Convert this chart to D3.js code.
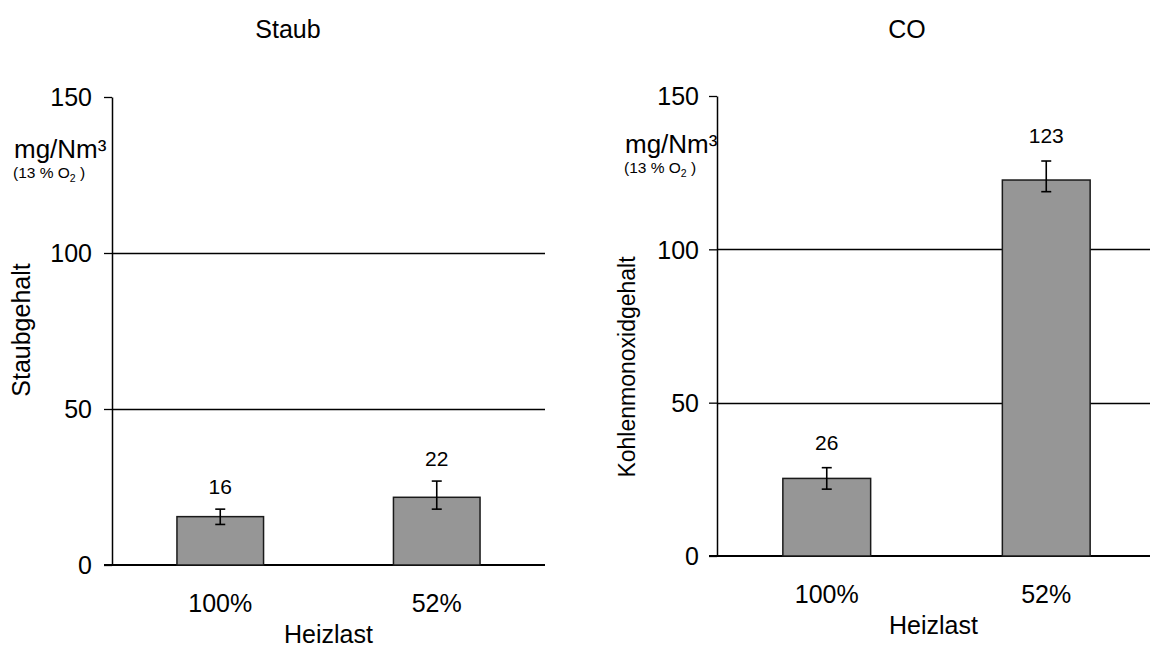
<!DOCTYPE html>
<html><head><meta charset="utf-8">
<script src="https://cdn.jsdelivr.net/npm/d3@7"></script>
<style>body{margin:0;background:#fff}svg{display:block;font-family:"Liberation Sans",Arial,sans-serif}</style>
</head><body><svg id="c" width="1150" height="647"></svg>
<script>
const categories = ["100%", "52%"];
const staubValues = [15.5, 21.7];
const staubErrLow = [13.0, 17.9];
const staubErrHigh = [17.9, 26.9];
const staubLabels = ["16", "22"];
const coValues = [25.3, 122.6];
const coErrLow = [21.8, 118.8];
const coErrHigh = [28.8, 128.8];
const coLabels = ["26", "123"];
const yTicks = [0, 50, 100, 150];
const gridTicks = [50, 100];

const svg = d3.select("#c");
const FONT = "Liberation Sans, Arial, sans-serif";

function panel(cfg) {
  const y = d3.scaleLinear().domain([0, 150]).range([cfg.y0, cfg.y150]);
  const x = d3.scaleBand().domain(categories).range([cfg.x0, cfg.x1]).paddingInner(0.6).paddingOuter(0.3);
  const g = svg.append("g");
  g.selectAll(".grid").data(gridTicks).enter().append("line")
    .attr("x1", cfg.x0).attr("x2", cfg.x1)
    .attr("y1", d => Math.round(y(d)) + 0.5).attr("y2", d => Math.round(y(d)) + 0.5)
    .attr("stroke", "#000").attr("stroke-width", 1.3);
  const ya = g.append("g").attr("transform", `translate(${cfg.x0},0)`)
    .call(d3.axisLeft(y).tickValues(yTicks).tickSize(8).tickPadding(cfg.tickPad).tickSizeOuter(0));
  ya.select(".domain").attr("stroke", "#000").attr("stroke-width", 1.5);
  ya.selectAll(".tick line").attr("stroke-width", 1.3);
  ya.selectAll("text").attr("font-size", 25).attr("fill", "#000").attr("font-family", FONT).attr("dy", "0.35em");
  g.append("line").attr("x1", cfg.x0 - 8).attr("x2", cfg.x1).attr("y1", y(0)).attr("y2", y(0)).attr("stroke", "#000").attr("stroke-width", 2);
  g.selectAll(".bar").data(cfg.values).enter().append("rect")
    .attr("x", (d, i) => x(categories[i])).attr("width", x.bandwidth())
    .attr("y", d => y(d)).attr("height", d => y(0) - y(d))
    .attr("fill", "#969696").attr("stroke", "#1a1a1a").attr("stroke-width", 1.5);
  categories.forEach((c, i) => {
    const cx = x(c) + x.bandwidth() / 2;
    g.append("line").attr("x1", cx).attr("x2", cx).attr("y1", y(cfg.lo[i])).attr("y2", y(cfg.hi[i])).attr("stroke", "#000").attr("stroke-width", 1.6);
    [cfg.lo[i], cfg.hi[i]].forEach(v => g.append("line").attr("x1", cx - 5).attr("x2", cx + 5).attr("y1", y(v)).attr("y2", y(v)).attr("stroke", "#000").attr("stroke-width", 1.6));
    g.append("text").attr("x", cx).attr("y", y(cfg.hi[i]) - cfg.labGap).attr("text-anchor", "middle").attr("font-size", 21).text(cfg.labels[i]);
    g.append("text").attr("x", cx).attr("y", cfg.catY).attr("text-anchor", "middle").attr("font-size", 25).text(c);
  });
  g.append("text").attr("x", (cfg.x0 + cfg.x1p) / 2).attr("y", cfg.catY + 31).attr("text-anchor", "middle").attr("font-size", 25).text("Heizlast");
  g.append("text").attr("x", cfg.titleX).attr("y", 38).attr("text-anchor", "middle").attr("font-size", 25).text(cfg.title);
  g.append("text").attr("transform", `translate(${cfg.ytX},${cfg.ytY}) rotate(-90)`).attr("text-anchor", "middle").attr("font-size", cfg.ytSize).text(cfg.ytitle);
  g.append("text").attr("x", cfg.unitX).attr("y", cfg.unitY).attr("font-size", 26).text("mg/Nm³");
  const t = g.append("text").attr("x", cfg.unitX - 1).attr("y", cfg.unitY + 20).attr("font-size", 15.5).attr("xml:space", "preserve");
  t.append("tspan").text("(13 % O");
  t.append("tspan").attr("font-size", 10.5).attr("dy", 4).text("2");
  t.append("tspan").attr("dy", -4).text(" )");
}

panel({x0: 112, x1: 545, x1p: 545, y0: 565, y150: 97, tickPad: 12, values: staubValues, lo: staubErrLow, hi: staubErrHigh,
  labels: staubLabels, labGap: 15, catY: 612, title: "Staub", titleX: 288, ytitle: "Staubgehalt", ytX: 30, ytY: 330, ytSize: 25, unitX: 14, unitY: 158});
panel({x0: 717, x1: 1156, x1p: 1150, y0: 556, y150: 96, tickPad: 10, values: coValues, lo: coErrLow, hi: coErrHigh,
  labels: coLabels, labGap: 18, catY: 603, title: "CO", titleX: 907, ytitle: "Kohlenmonoxidgehalt", ytX: 635, ytY: 367, ytSize: 23, unitX: 625, unitY: 153});
</script></body></html>
